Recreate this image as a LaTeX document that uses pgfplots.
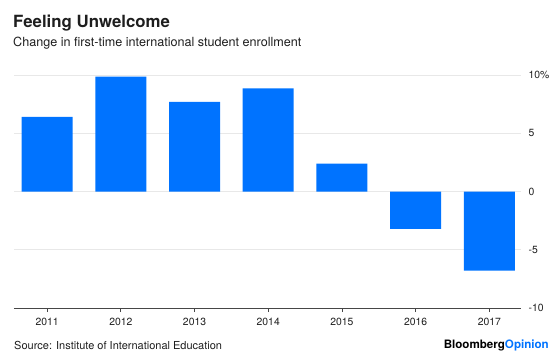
\documentclass[border=0pt]{standalone}
\usepackage{pgfplots}
\pgfplotsset{compat=1.18}
\usepackage{fontspec}
\setmainfont{TeX Gyre Heros}
\definecolor{barblue}{RGB}{0,115,255}
\definecolor{gridgray}{RGB}{232,232,232}
\definecolor{axisgray}{RGB}{70,70,70}
\definecolor{txt}{RGB}{30,30,30}
\begin{document}
\begin{tikzpicture}
\useasboundingbox (0pt,0pt) rectangle (560pt,-358pt);
\node[anchor=base west, inner sep=0, text=txt, font=\bfseries\fontsize{16.8}{18}\selectfont] at (13pt,-27.7pt) {Feeling Unwelcome};
\node[anchor=base west, inner sep=0, text=txt, font=\fontsize{12.6}{14}\selectfont] at (13pt,-47pt) {Change in first-time international student enrollment};
\node[anchor=base west, inner sep=0, text=txt, font=\fontsize{11}{12}\selectfont] at (14pt,-349.3pt) {Source: Institute of International Education};
\node[anchor=base east, inner sep=0, text=black, font=\bfseries\fontsize{11.6}{12}\selectfont] at (549pt,-348.3pt) {Bloomberg\textcolor{barblue}{Opinion}};
\begin{axis}[
  at={(14pt,-308pt)}, anchor=south west,
  scale only axis, width=507pt, height=233pt,
  xmin=-0.45, xmax=6.43, ymin=-10, ymax=10,
  axis x line*=bottom, axis y line*=right,
  x axis line style={draw=axisgray, line width=0.8pt},
  y axis line style={draw=none},
  xtick=data,
  xticklabels={2011,2012,2013,2014,2015,2016,2017},
  xtick style={draw=axisgray, line width=0.8pt},
  major tick length=4pt,
  xtick align=outside,
  ytick={-10,-5,0,5,10},
  yticklabels={-10,-5,0,5,10\%},
  ytick style={draw=none},
  ymajorgrids,
  grid style={draw=gridgray, line width=0.8pt},
  tick label style={font=\fontsize{10.4}{12}\selectfont, text=txt},
  xticklabel style={anchor=north, yshift=-3pt},
  yticklabel style={anchor=west, xshift=4pt},
  axis on top=false,
]
\addplot[ybar, bar width=51pt, fill=barblue, draw=none] coordinates {
  (0,6.4) (1,9.85) (2,7.7) (3,8.85) (4,2.4) (5,-3.2) (6,-6.8)
};
\end{axis}
\end{tikzpicture}
\end{document}
